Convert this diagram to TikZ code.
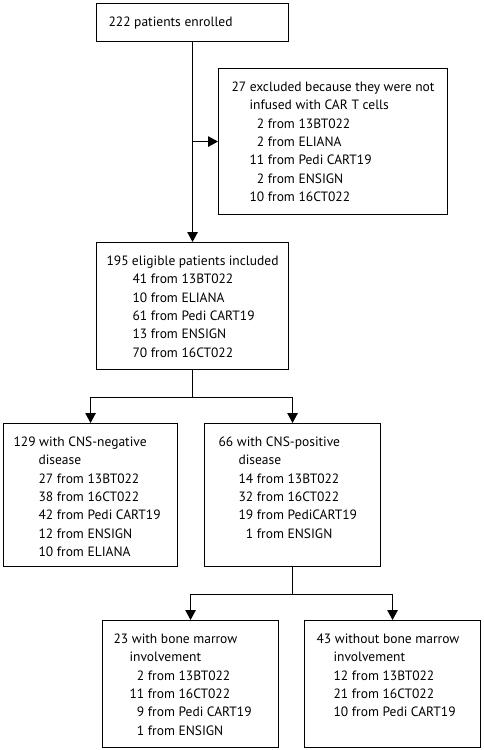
\documentclass[tikz,border=0pt]{standalone}
\usepackage{fontspec}
\setmainfont{PT Sans}
\usetikzlibrary{arrows.meta}

% Text of a box: fixed height, lines from the top
\newcommand{\boxtext}[3]{\parbox[c][#1][t]{#2}{\rule{0pt}{23pt}#3}}

\tikzset{
  box/.style={draw, line width=1.1pt, anchor=north west, inner xsep=12pt, inner ysep=0pt,
    font=\fontsize{13.5pt}{18.3pt}\selectfont},
  link/.style={line width=1.1pt, -{Triangle[length=10pt, width=10.5pt]}}
}

\begin{document}
\begin{tikzpicture}[x=1pt, y=-1pt]
\useasboundingbox (0,0) rectangle (484,750);

% Draw the boxes
\node[box] (enrol) at (96,3) {\boxtext{38pt}{168pt}{222 patients enrolled}};
\node[box, inner xsep=13pt] (excl) at (218,68) {\boxtext{146pt}{203pt}{%
27 excluded because they were not\\
\hspace*{18pt}infused with CAR T cells\\
\hspace*{18pt}\hphantom{0}2 from 13BT022\\
\hspace*{18pt}\hphantom{0}2 from ELIANA\\
\hspace*{18pt}11 from Pedi CART19\\
\hspace*{18pt}\hphantom{0}2 from ENSIGN\\
\hspace*{18pt}10 from 16CT022}};
\node[box, inner xsep=10pt] (eligible) at (96,242) {\boxtext{127pt}{172pt}{%
195 eligible patients included\\
\hspace*{26pt}41 from 13BT022\\
\hspace*{26pt}10 from ELIANA\\
\hspace*{26pt}61 from Pedi CART19\\
\hspace*{26pt}13 from ENSIGN\\
\hspace*{26pt}70 from 16CT022}};
\node[box, inner xsep=10pt] (neg) at (3,423) {\boxtext{143pt}{154pt}{%
129 with CNS-negative\\
\hspace*{25pt}disease\\
\hspace*{25pt}27 from 13BT022\\
\hspace*{25pt}38 from 16CT022\\
\hspace*{25pt}42 from Pedi CART19\\
\hspace*{25pt}12 from ENSIGN\\
\hspace*{25pt}10 from ELIANA}};
\node[box, inner xsep=14pt] (pos) at (204,423) {\boxtext{143pt}{148pt}{%
66 with CNS-positive\\
\hspace*{20pt}disease\\
\hspace*{20pt}14 from 13BT022\\
\hspace*{20pt}32 from 16CT022\\
\hspace*{20pt}19 from PediCART19\\
\hspace*{20pt}\hphantom{0}1 from ENSIGN}};
\node[box, inner xsep=11pt] (bm) at (102,620) {\boxtext{127pt}{154pt}{%
23 with bone marrow\\
\hspace*{16pt}involvement\\
\hspace*{16pt}\hphantom{0}2 from 13BT022\\
\hspace*{16pt}11 from 16CT022\\
\hspace*{16pt}\hphantom{0}9 from Pedi CART19\\
\hspace*{16pt}\hphantom{0}1 from ENSIGN}};
\node[box] (nobm) at (304,620) {\boxtext{127pt}{152pt}{%
43 without bone marrow\\
\hspace*{17pt}involvement\\
\hspace*{17pt}12 from 13BT022\\
\hspace*{17pt}21 from 16CT022\\
\hspace*{17pt}10 from Pedi CART19}};

% Draw the connectors
\draw[link] (enrol.south) -- (eligible.north);
\coordinate (split) at (enrol.south |- excl.west);
\draw[link] (split) -- (excl.west);
\draw[link] (eligible.south) -- ++(0,27) -| (neg.north);
\draw[link] (eligible.south) -- ++(0,27) -| (pos.north);
\draw[link] (pos.south) -- ++(0,27) -| (bm.north);
\draw[link] (pos.south) -- ++(0,27) -| (nobm.north);
\end{tikzpicture}
\end{document}
